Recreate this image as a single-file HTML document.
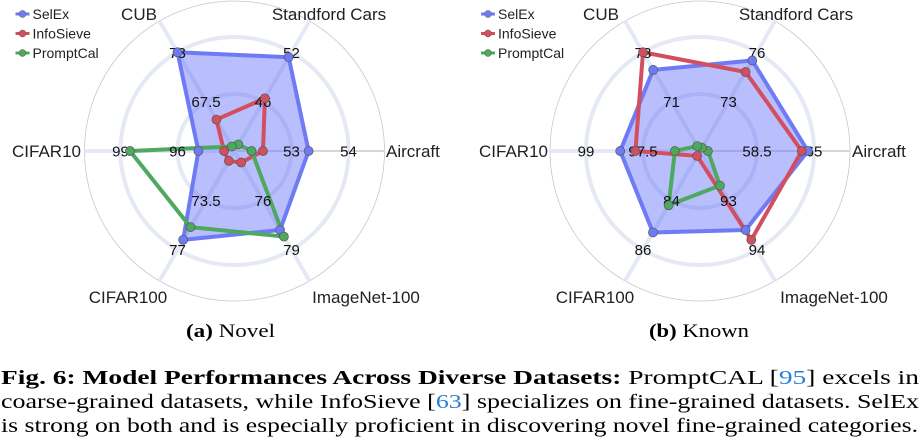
<!DOCTYPE html>
<html><head><meta charset="utf-8">
<style>
html,body{margin:0;padding:0;background:#fff;}
svg{display:block;}
.serif{font-family:"Liberation Serif",serif;}
</style></head>
<body>
<svg id="fig" width="924" height="448" viewBox="0 0 924 448" xmlns="http://www.w3.org/2000/svg">
<g id="charts"></g>
<text class="serif" x="186" y="337" font-size="18.5" textLength="89" lengthAdjust="spacingAndGlyphs"><tspan font-weight="bold">(a)</tspan>  Novel</text>
<text class="serif" x="649" y="337" font-size="18.5" textLength="100" lengthAdjust="spacingAndGlyphs"><tspan font-weight="bold">(b)</tspan>  Known</text>
<text class="serif" x="1" y="384" font-size="20.5" textLength="918" lengthAdjust="spacingAndGlyphs"><tspan font-weight="bold">Fig. 6: Model Performances Across Diverse Datasets:</tspan> PromptCAL [<tspan fill="#2a7fd4">95</tspan>] excels in</text>
<text class="serif" x="1" y="408" font-size="20.5" textLength="918" lengthAdjust="spacingAndGlyphs">coarse-grained datasets, while InfoSieve [<tspan fill="#2a7fd4">63</tspan>] specializes on fine-grained datasets. SelEx</text>
<text class="serif" x="1" y="432" font-size="20.5" textLength="917" lengthAdjust="spacingAndGlyphs">is strong on both and is especially proficient in discovering novel fine-grained categories.</text>
</svg>
<script>
const categories = ["Aircraft","Standford Cars","CUB","CIFAR10","CIFAR100","ImageNet-100"];
const novelTicks = [[53,54],[46,52],[67.5,73],[96,99],[73.5,77],[76,79]];
const knownTicks = [[58.5,65],[73,76],[71,78],[97.5,99],[84,86],[93,94]];
const novelSelEx = [53.3,51.4,73,94.9,76.3,77.8];
const novelInfoSieve = [52.5,46.4,65.5,93.55,70.7,73.7];
const novelPromptCal = [52.3,40.8,62.5,98.5,75.4,78.2];
const knownSelEx = [64.3,75.5,75.5,98.1,85.3,93.6];
const knownInfoSieve = [63.6,74.8,78,97.7,82.2,93.8];
const knownPromptCal = [52.9,70.2,64.7,96.66,84.2,92.7];

const NS="http://www.w3.org/2000/svg";
const root=document.getElementById('charts');
const SANS='"Liberation Sans", sans-serif';
function mk(tag,attrs,parent){const e=document.createElementNS(NS,tag);for(const k in attrs)e.setAttribute(k,attrs[k]);(parent||root).appendChild(e);return e;}
const R1=57,RO=150;
const angles=[0,60,120,180,240,300];
function rad(v,t){const r=R1+R1*(v-t[0])/(t[1]-t[0]);return Math.max(0,Math.min(RO,r));}
function pt(cx,cy,i,r){const a=angles[i]*Math.PI/180;return [cx+r*Math.cos(a),cy-r*Math.sin(a)];}

function radar(cx,cy,ticks,series,labelPos,key){
  const g=mk('g',{});
  
  
  const oc=mk('circle',{cx:cx,cy:cy,r:RO,fill:'none',stroke:'#c8c8c8','stroke-width':0.8},g);
  
  
  [R1,2*R1].forEach(r=>{const c=mk('circle',{cx:cx,cy:cy,r:r,fill:'none',stroke:'#e4e9f5','stroke-width':4},g);
    
    });
  for(let i=0;i<6;i++){const p=pt(cx,cy,i,RO);const l=mk('line',{x1:cx,y1:cy,x2:p[0],y2:p[1],stroke:i===0?'#d3d6e0':'#e4e9f5','stroke-width':i===0?2:4},g);
    
    }
  series.forEach(s=>{
    const pts=s.vals.map((v,i)=>pt(cx,cy,i,rad(v,ticks[i])));
    const poly=mk('polygon',{points:pts.map(p=>p.join(',')).join(' '),fill:s.fill,stroke:s.color,'stroke-width':4,'stroke-linejoin':'round'},g);
    
    
    s._pts=pts;
  });
  for(let i=0;i<6;i++){ticks[i].forEach((t,j)=>{const p=pt(cx,cy,i,R1*(j+1));
    const tx=mk('text',{x:p[0],y:p[1]+5.5,'text-anchor':'middle','font-family':SANS,'font-size':15,fill:'#111'},g);
    tx.textContent=t;
    
    });}
  series.forEach(s=>{s._pts.forEach(p=>{const c=mk('circle',{cx:p[0],cy:p[1],r:4.5,fill:s.color,stroke:'#555','stroke-width':0.7},g);
    
    });});
  labelPos.forEach((lp,i)=>{const t=mk('text',{x:lp[0],y:lp[1],'text-anchor':lp[2],'font-family':SANS,'font-size':17,fill:'#222'},g);
    t.textContent=categories[i];
    
    });
  const names=[['SelEx','#6f7af5'],['InfoSieve','#d34f5f'],['PromptCal','#4ea85f']];
  names.forEach((n,k)=>{const y=14+k*19.5;const lx=cx-219;
    const le=mk('g',{},g);
    
    
    mk('line',{x1:lx,y1:y,x2:lx+14,y2:y,stroke:n[1],'stroke-width':3},le);
    mk('circle',{cx:lx+7,cy:y,r:3.5,fill:n[1],stroke:'#555','stroke-width':0.5},le);
    const t=mk('text',{x:lx+17,y:y+5,'font-family':SANS,'font-size':14,fill:'#222'},le);
    t.textContent=n[0];});
}
function mkSeries(a,b,c){return [
  {name:'SelEx',vals:a,color:'#6f7af5',fill:'rgba(99,110,250,0.45)'},
  {name:'InfoSieve',vals:b,color:'#d34f5f',fill:'none'},
  {name:'PromptCal',vals:c,color:'#4ea85f',fill:'none'}];}
radar(234.5,151,novelTicks,mkSeries(novelSelEx,novelInfoSieve,novelPromptCal),
  [[386,157,'start'],[329,20,'middle'],[139,20,'middle'],[81,157,'end'],[128,303,'middle'],[366,303,'middle']],'novel');
radar(700,151,knownTicks,mkSeries(knownSelEx,knownInfoSieve,knownPromptCal),
  [[852,157,'start'],[796,20,'middle'],[601,20,'middle'],[548,157,'end'],[595,303,'middle'],[834,303,'middle']],'known');
</script>
</body></html>
